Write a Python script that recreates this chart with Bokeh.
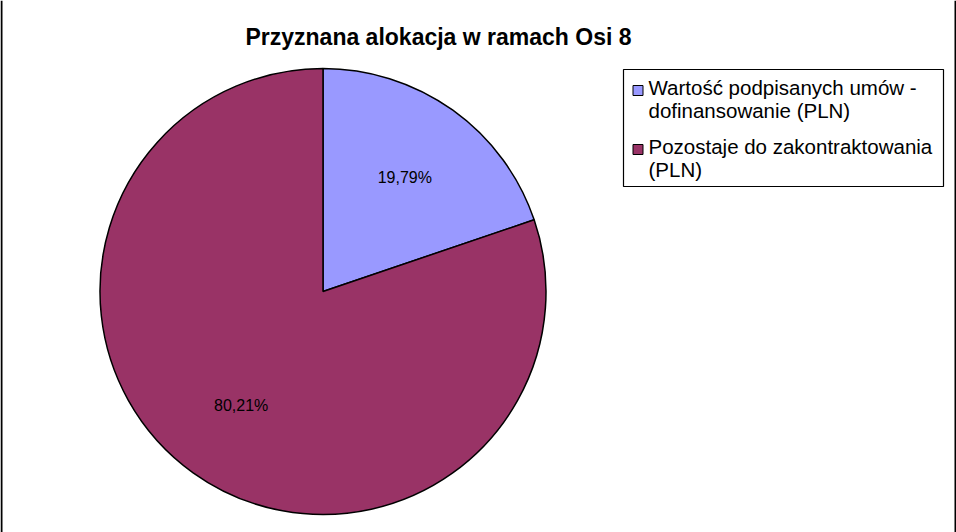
import numpy as np
from bokeh.plotting import figure
from bokeh.models import Range1d, ColumnDataSource
from bokeh.core.properties import value
from bokeh.embed import file_html
from bokeh.resources import INLINE

# ---- data ----
title = "Przyznana alokacja w ramach Osi 8"
categories = ["Wartość podpisanych umów -\ndofinansowanie (PLN)",
              "Pozostaje do zakontraktowania\n(PLN)"]
shares = [19.79, 80.21]
labels = ["19,79%", "80,21%"]
colors = ["#9999FF", "#993366"]

# ---- layout ----
W, H = 956, 532
FONT = "Liberation Sans"
cx, cy, R = 322.5, 241.0, 223.0

p = figure(width=W, height=H, output_backend="svg", toolbar_location=None,
           x_range=Range1d(0, W), y_range=Range1d(0, H), min_border=0)
p.axis.visible = False
p.grid.visible = False
p.outline_line_color = None
p.background_fill_color = "white"
p.border_fill_color = "white"

# chart-area frame (left and right edges visible)
p.segment(x0=[1, W - 1], y0=[0, 0], x1=[1, W - 1], y1=[H, H],
          line_color="black", line_width=2)

frac = np.array(shares) / sum(shares)
cum = np.concatenate([[0], np.cumsum(frac)])
start = np.pi / 2 - 2 * np.pi * cum[:-1]
end = np.pi / 2 - 2 * np.pi * cum[1:]
mid = (start + end) / 2

src = ColumnDataSource(dict(start=start, end=end, color=colors))
p.wedge(x=cx, y=cy, radius=R, start_angle="start", end_angle="end",
        direction="clock", fill_color="color", line_color="black",
        line_width=1.5, source=src)

lr = 0.63 * R
p.text(x=cx + lr * np.cos(mid), y=cy + lr * np.sin(mid), text=labels,
       text_font=value(FONT), text_font_size="16px", text_color="black",
       text_align="center", text_baseline="middle")

# title
p.text(x=[438], y=[496], text=[title], text_font=value(FONT),
       text_font_size="23px", text_font_style="bold", text_color="black",
       text_align="center", text_baseline="middle")

# legend box
bx0, bx1, by0, by1 = 623, 943, 346, 463
p.quad(left=[bx0], right=[bx1], bottom=[by0], top=[by1],
       fill_color="white", line_color="black", line_width=1.2)

first_base = [445, 386]
line_gap = 22.5
for i, (cat, col) in enumerate(zip(categories, colors)):
    lines = cat.split("\n")
    base = first_base[i]
    p.rect(x=[637.5], y=[base - 3], width=[10], height=[10],
           fill_color=col, line_color="black", line_width=1)
    xs = [648] * len(lines)
    ys = [base - k * line_gap for k in range(len(lines))]
    p.text(x=xs, y=ys, text=lines, text_font=value(FONT),
           text_font_size="20.5px", text_color="black",
           text_align="left", text_baseline="alphabetic")

open("out.html", "w").write(file_html(p, INLINE))
